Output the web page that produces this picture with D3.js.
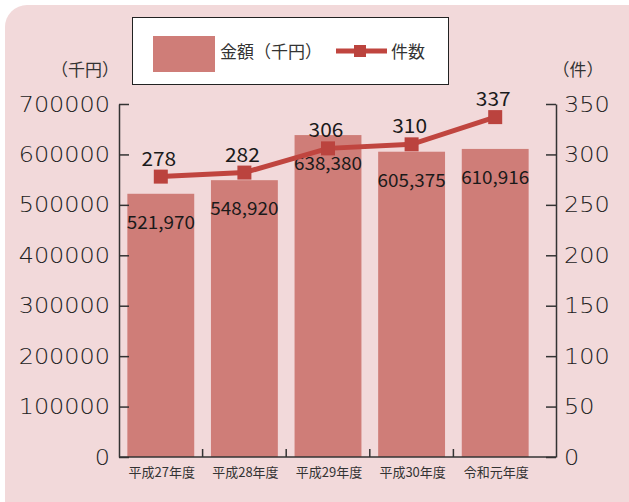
<!DOCTYPE html>
<html>
<head>
<meta charset="utf-8">
<title>金額と件数</title>
<script src="https://d3js.org/d3.v7.min.js"></script>
<style>
  body { margin: 0; background: #fff; }
  text { font-family: "Noto Sans CJK JP", "Noto Sans", sans-serif; }
  .tick-label { font-family: "DejaVu Sans", sans-serif; font-weight: 200; }
</style>
</head>
<body>
<svg width="629" height="502"></svg>
<script>
// data
const years = ["平成27年度", "平成28年度", "平成29年度", "平成30年度", "令和元年度"];
const amounts = [521970, 548920, 638380, 605375, 610916];   // 金額（千円）
const counts = [278, 282, 306, 310, 337];                    // 件数
const leftTicks = [0, 100000, 200000, 300000, 400000, 500000, 600000, 700000];
const rightTicks = [0, 50, 100, 150, 200, 250, 300, 350];

const svg = d3.select("svg");
const axL = 119, axR = 556, axTop = 104, axBottom = 457;

// pink rounded panel
svg.append("rect")
  .attr("x", 5).attr("y", 5)
  .attr("width", 660).attr("height", 540)
  .attr("rx", 22)
  .attr("fill", "#f2d9da");

const x = d3.scaleBand()
  .domain(years)
  .range([119, 537])
  .paddingInner(0.2)
  .paddingOuter(0.1);

const yL = d3.scaleLinear().domain([0, 700000]).range([axBottom, axTop]);
const yR = d3.scaleLinear().domain([0, 350]).range([axBottom, axTop]);
const centers = years.map(c => x(c) + x.bandwidth() / 2);

// bars
svg.append("g").selectAll("rect")
  .data(amounts)
  .join("rect")
  .attr("x", (d, i) => x(years[i]))
  .attr("y", d => yL(d))
  .attr("width", x.bandwidth())
  .attr("height", d => axBottom - yL(d))
  .attr("fill", "#cf7d78");

// bar labels
svg.append("g").selectAll("text")
  .data(amounts)
  .join("text")
  .attr("transform", (d, i) => `translate(${centers[i]},${yL(d) + 35}) scale(1.05,1)`)
  .attr("text-anchor", "middle")
  .attr("font-size", 18)
  .attr("fill", "#1a1a1a")
  .text(d => d3.format(",")(d));

// axes
const axisColor = "#333";
const gl = svg.append("g")
  .attr("transform", `translate(${axL},0)`)
  .call(d3.axisRight(yL).tickValues(leftTicks).tickSize(10).tickSizeOuter(0));
gl.selectAll("text").remove();
gl.append("g").selectAll("text")
  .data(leftTicks)
  .join("text")
  .attr("class", "tick-label")
  .attr("transform", d => `translate(-9,${yL(d)}) scale(1.14,1)`)
  .attr("dy", "0.36em")
  .attr("text-anchor", "end")
  .attr("font-size", 21)
  .attr("fill", "#222")
  .text(d => d);

const gr = svg.append("g")
  .attr("transform", `translate(${axR},0)`)
  .call(d3.axisLeft(yR).tickValues(rightTicks).tickSize(10).tickSizeOuter(0));
gr.selectAll("text").remove();
gr.append("g").selectAll("text")
  .data(rightTicks)
  .join("text")
  .attr("class", "tick-label")
  .attr("transform", d => `translate(8,${yR(d)}) scale(1.14,1)`)
  .attr("dy", "0.36em")
  .attr("text-anchor", "start")
  .attr("font-size", 21)
  .attr("fill", "#222")
  .text(d => d);

[gl, gr].forEach(g => {
  g.selectAll("line, path").attr("stroke", axisColor).attr("stroke-width", 1.5);
});

// bottom axis
svg.append("line")
  .attr("x1", axL).attr("x2", axR)
  .attr("y1", axBottom).attr("y2", axBottom)
  .attr("stroke", axisColor).attr("stroke-width", 1.5);
svg.append("g").selectAll("line")
  .data(centers.slice(0, -1))
  .join("line")
  .attr("x1", (d, i) => (d + centers[i + 1]) / 2)
  .attr("x2", (d, i) => (d + centers[i + 1]) / 2)
  .attr("y1", axBottom).attr("y2", axBottom - 8)
  .attr("stroke", axisColor).attr("stroke-width", 1.5);
svg.append("g").selectAll("text")
  .data(years)
  .join("text")
  .attr("x", (d, i) => centers[i] + 1)
  .attr("y", 477)
  .attr("text-anchor", "middle")
  .attr("font-size", 13)
  .attr("fill", "#333")
  .text(d => d);

// unit labels
svg.append("text").attr("x", 85).attr("y", 76).attr("text-anchor", "middle")
  .attr("font-size", 17).attr("fill", "#333").text("（千円）");
svg.append("text").attr("x", 578).attr("y", 76).attr("text-anchor", "middle")
  .attr("font-size", 17).attr("fill", "#333").text("（件）");

// line
const lineColor = "#c0453f";
const line = d3.line()
  .x((d, i) => centers[i])
  .y(d => yR(d));
svg.append("path")
  .datum(counts)
  .attr("d", line)
  .attr("fill", "none")
  .attr("stroke", lineColor)
  .attr("stroke-width", 5);
svg.append("g").selectAll("rect")
  .data(counts)
  .join("rect")
  .attr("x", (d, i) => centers[i] - 7)
  .attr("y", d => yR(d) - 7)
  .attr("width", 14).attr("height", 14)
  .attr("fill", "#bb433e");
svg.append("g").selectAll("text")
  .data(counts)
  .join("text")
  .attr("transform", (d, i) => `translate(${centers[i] - 2},${yR(d) - 11}) scale(1.1,1)`)
  .attr("text-anchor", "middle")
  .attr("font-size", 19)
  .attr("fill", "#1a1a1a")
  .text(d => d);

// legend
const lg = svg.append("g");
lg.append("rect").attr("x", 132.5).attr("y", 17.5).attr("width", 316).attr("height", 67)
  .attr("fill", "#fff").attr("stroke", "#222").attr("stroke-width", 1);
lg.append("rect").attr("x", 153).attr("y", 36).attr("width", 62).attr("height", 36)
  .attr("fill", "#cf7d78");
lg.append("text").attr("x", 220).attr("y", 58).attr("font-size", 17).attr("fill", "#333")
  .text("金額（千円）");
lg.append("line").attr("x1", 336).attr("x2", 387).attr("y1", 51).attr("y2", 51)
  .attr("stroke", lineColor).attr("stroke-width", 5);
lg.append("rect").attr("x", 354).attr("y", 45).attr("width", 12).attr("height", 12)
  .attr("fill", "#bb433e");
lg.append("text").attr("x", 391).attr("y", 58).attr("font-size", 17).attr("fill", "#333")
  .text("件数");
</script>
</body>
</html>
